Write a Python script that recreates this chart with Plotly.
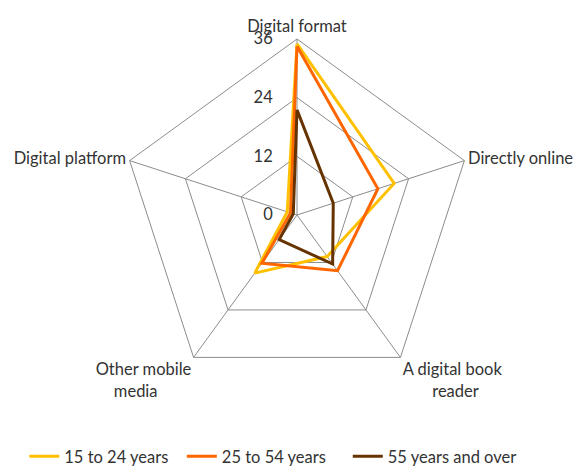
import plotly.graph_objects as go

categories = ["Digital format", "Directly online", "A digital book reader", "Other mobile media", "Digital platform"]
series_names = ["15 to 24 years", "25 to 54 years", "55 years and over"]
s_15_24 = [35.0, 20.9, 10.5, 14.7, 2.1]
s_25_54 = [34.5, 17.4, 14.1, 12.2, 1.4]
s_55_up = [21.5, 7.8, 12.4, 6.2, 0.8]
colors = ["#FFC000", "#FF6600", "#663300"]
radial_ticks = [0, 12, 24, 36]

NB = "\u00a0"
# display labels (line-wrapped like the original)
cat_text = [
    "Digital format",
    "Directly online",
    "A digital book<br>" + NB * 7 + "reader",
    "Other mobile<br>media" + NB * 8,
    "Digital platform",
]
# extra trailing space after legend entries to match original spacing
legend_pad = [2, 4, 0]

fig = go.Figure()
for name, vals, col, pad in zip(series_names, [s_15_24, s_25_54, s_55_up], colors, legend_pad):
    fig.add_trace(go.Scatterpolar(
        r=vals + [vals[0]],
        theta=categories + [categories[0]],
        mode="lines",
        name=name + NB * pad,
        line=dict(color=col, width=3),
    ))

fig.update_layout(
    width=582, height=466,
    margin=dict(l=0, r=0, t=0, b=0),
    paper_bgcolor="white",
    plot_bgcolor="white",
    font=dict(family="Lato", size=16.5, color="#333333"),
    polar=dict(
        domain=dict(x=[113/582, 465/582], y=[83/466, 435/466]),
        bgcolor="white",
        gridshape="linear",
        angularaxis=dict(
            rotation=90, direction="clockwise",
            tickvals=categories, ticktext=cat_text,
            showline=True, linecolor="#8c8c8c", linewidth=1,
            gridcolor="#8c8c8c", gridwidth=1,
            ticks="", tickfont=dict(size=16.5, color="#333333"),
        ),
        radialaxis=dict(
            range=[0, 36], tickvals=radial_ticks, ticktext=[str(v) for v in radial_ticks],
            angle=90, tickangle=90, side="counterclockwise",
            showline=False, gridcolor="#8c8c8c", gridwidth=1,
            ticks="outside", ticklen=18, tickcolor="rgba(0,0,0,0)",
            tickfont=dict(size=16.5, color="#333333"),
        ),
    ),
    legend=dict(
        orientation="h", x=0.028, xanchor="left", y=0, yanchor="bottom",
        font=dict(size=16.5, color="#333333"),
        itemwidth=30,
    ),
)

fig.write_html("out.html")
